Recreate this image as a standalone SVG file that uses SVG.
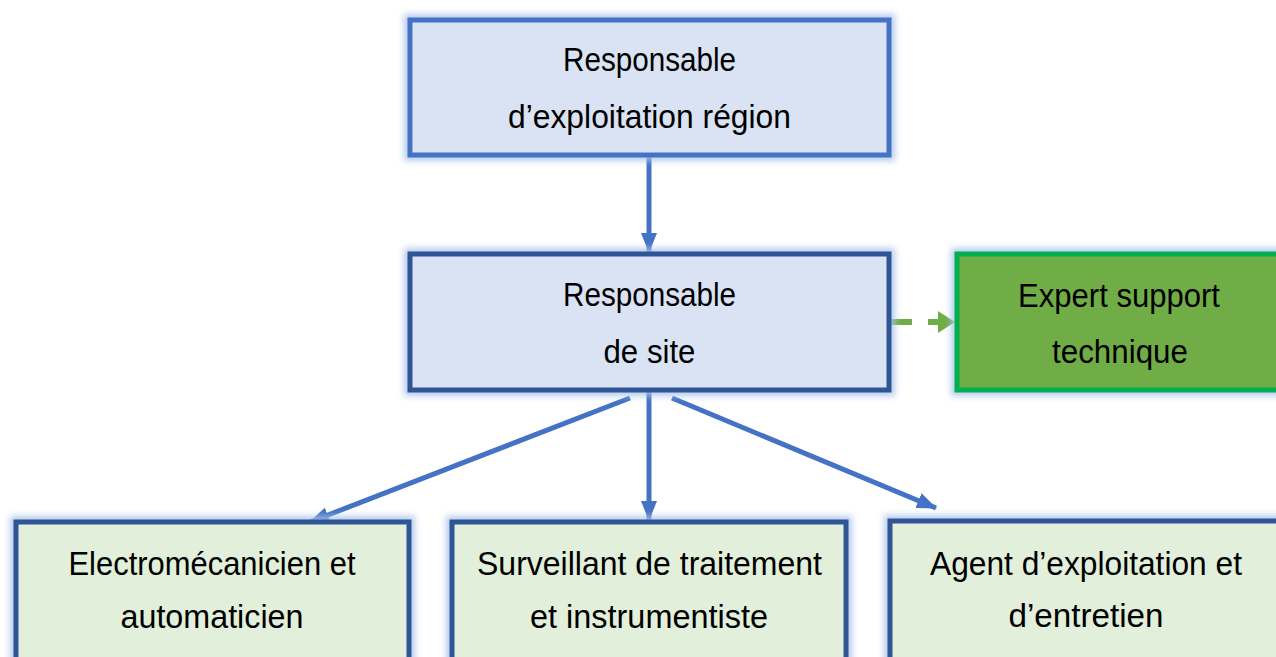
<svg xmlns="http://www.w3.org/2000/svg" width="1276" height="657" viewBox="0 0 1276 657">
  <style>
    .glow { fill: none; stroke: #a9c4ea; stroke-width: 12; opacity: 0.85; }
    .blue { fill: #dae3f3; stroke: #4472c4; stroke-width: 5; }
    .blue2 { fill: #dae3f3; stroke: #2f5597; stroke-width: 5; }
    .green { fill: #70ad47; stroke: #00b050; stroke-width: 5; }
    .lgreen { fill: #e2efda; stroke: #2f5597; stroke-width: 5; }
    text { font-family: "Liberation Sans", Arial, sans-serif; font-size: 34px; fill: #000; text-anchor: middle; }
    .conn { stroke: #4472c4; stroke-width: 5; fill: none; }
    .gline { stroke: #70ad47; stroke-width: 6; fill: none; }
  </style>
  <defs>
    <filter id="blur" x="-10%" y="-10%" width="120%" height="120%">
      <feGaussianBlur stdDeviation="3"/>
    </filter>
    <marker id="ah" markerUnits="userSpaceOnUse" markerWidth="22" markerHeight="18" refX="19" refY="8" orient="auto">
      <path d="M0,0 L20,8 L0,16 Z" fill="#4472c4"/>
    </marker>
    <marker id="ahg" markerUnits="userSpaceOnUse" markerWidth="20" markerHeight="24" refX="2" refY="11" orient="auto">
      <path d="M0,0 L17,11 L0,22 Z" fill="#70ad47"/>
    </marker>
  </defs>

  <g id="connectors">
    <line class="conn" x1="649" y1="157" x2="649" y2="252" marker-end="url(#ah)"/>
    <line class="conn" x1="649" y1="392" x2="649" y2="520" marker-end="url(#ah)"/>
    <line class="conn" x1="630" y1="398" x2="310" y2="522" marker-end="url(#ah)"/>
    <line class="conn" x1="672" y1="398" x2="936" y2="508" marker-end="url(#ah)"/>
    <line class="gline" x1="890" y1="322" x2="912" y2="322"/>
    <line class="gline" x1="928" y1="322" x2="940" y2="322" marker-end="url(#ahg)"/>
  </g>

  <g id="n1">
    <rect class="glow" x="410" y="20" width="479" height="135" filter="url(#blur)"/>
    <rect class="blue" x="410" y="20" width="479" height="135"/>
    <text x="649.5" y="71" textLength="173" lengthAdjust="spacingAndGlyphs">Responsable</text>
    <text x="649.5" y="128" textLength="283" lengthAdjust="spacingAndGlyphs">d’exploitation région</text>
  </g>

  <g id="n2">
    <rect class="glow" x="410" y="254" width="479" height="136" filter="url(#blur)"/>
    <rect class="blue2" x="410" y="254" width="479" height="136"/>
    <text x="649.5" y="306" textLength="173" lengthAdjust="spacingAndGlyphs">Responsable</text>
    <text x="649.5" y="363" textLength="92" lengthAdjust="spacingAndGlyphs">de site</text>
  </g>

  <g id="n3">
    <rect class="glow" x="957" y="254" width="330" height="136" filter="url(#blur)"/>
    <rect class="green" x="957" y="254" width="330" height="136"/>
    <text x="1119" y="307" textLength="202" lengthAdjust="spacingAndGlyphs">Expert support</text>
    <text x="1120" y="363" textLength="136" lengthAdjust="spacingAndGlyphs">technique</text>
  </g>

  <g id="n4">
    <rect class="glow" x="16" y="522" width="393" height="150" filter="url(#blur)"/>
    <rect class="lgreen" x="16" y="522" width="393" height="150"/>
    <text x="212" y="575" textLength="287" lengthAdjust="spacingAndGlyphs">Electromécanicien et</text>
    <text x="212" y="628" textLength="183" lengthAdjust="spacingAndGlyphs">automaticien</text>
  </g>

  <g id="n5">
    <rect class="glow" x="452" y="522" width="394" height="150" filter="url(#blur)"/>
    <rect class="lgreen" x="452" y="522" width="394" height="150"/>
    <text x="649.5" y="575" textLength="345" lengthAdjust="spacingAndGlyphs">Surveillant de traitement</text>
    <text x="649" y="628" textLength="238" lengthAdjust="spacingAndGlyphs">et instrumentiste</text>
  </g>

  <g id="n6">
    <rect class="glow" x="890" y="521" width="392" height="150" filter="url(#blur)"/>
    <rect class="lgreen" x="890" y="521" width="392" height="150"/>
    <text x="1086" y="575" textLength="312" lengthAdjust="spacingAndGlyphs">Agent d’exploitation et</text>
    <text x="1086" y="627" textLength="155" lengthAdjust="spacingAndGlyphs">d’entretien</text>
  </g>
</svg>
